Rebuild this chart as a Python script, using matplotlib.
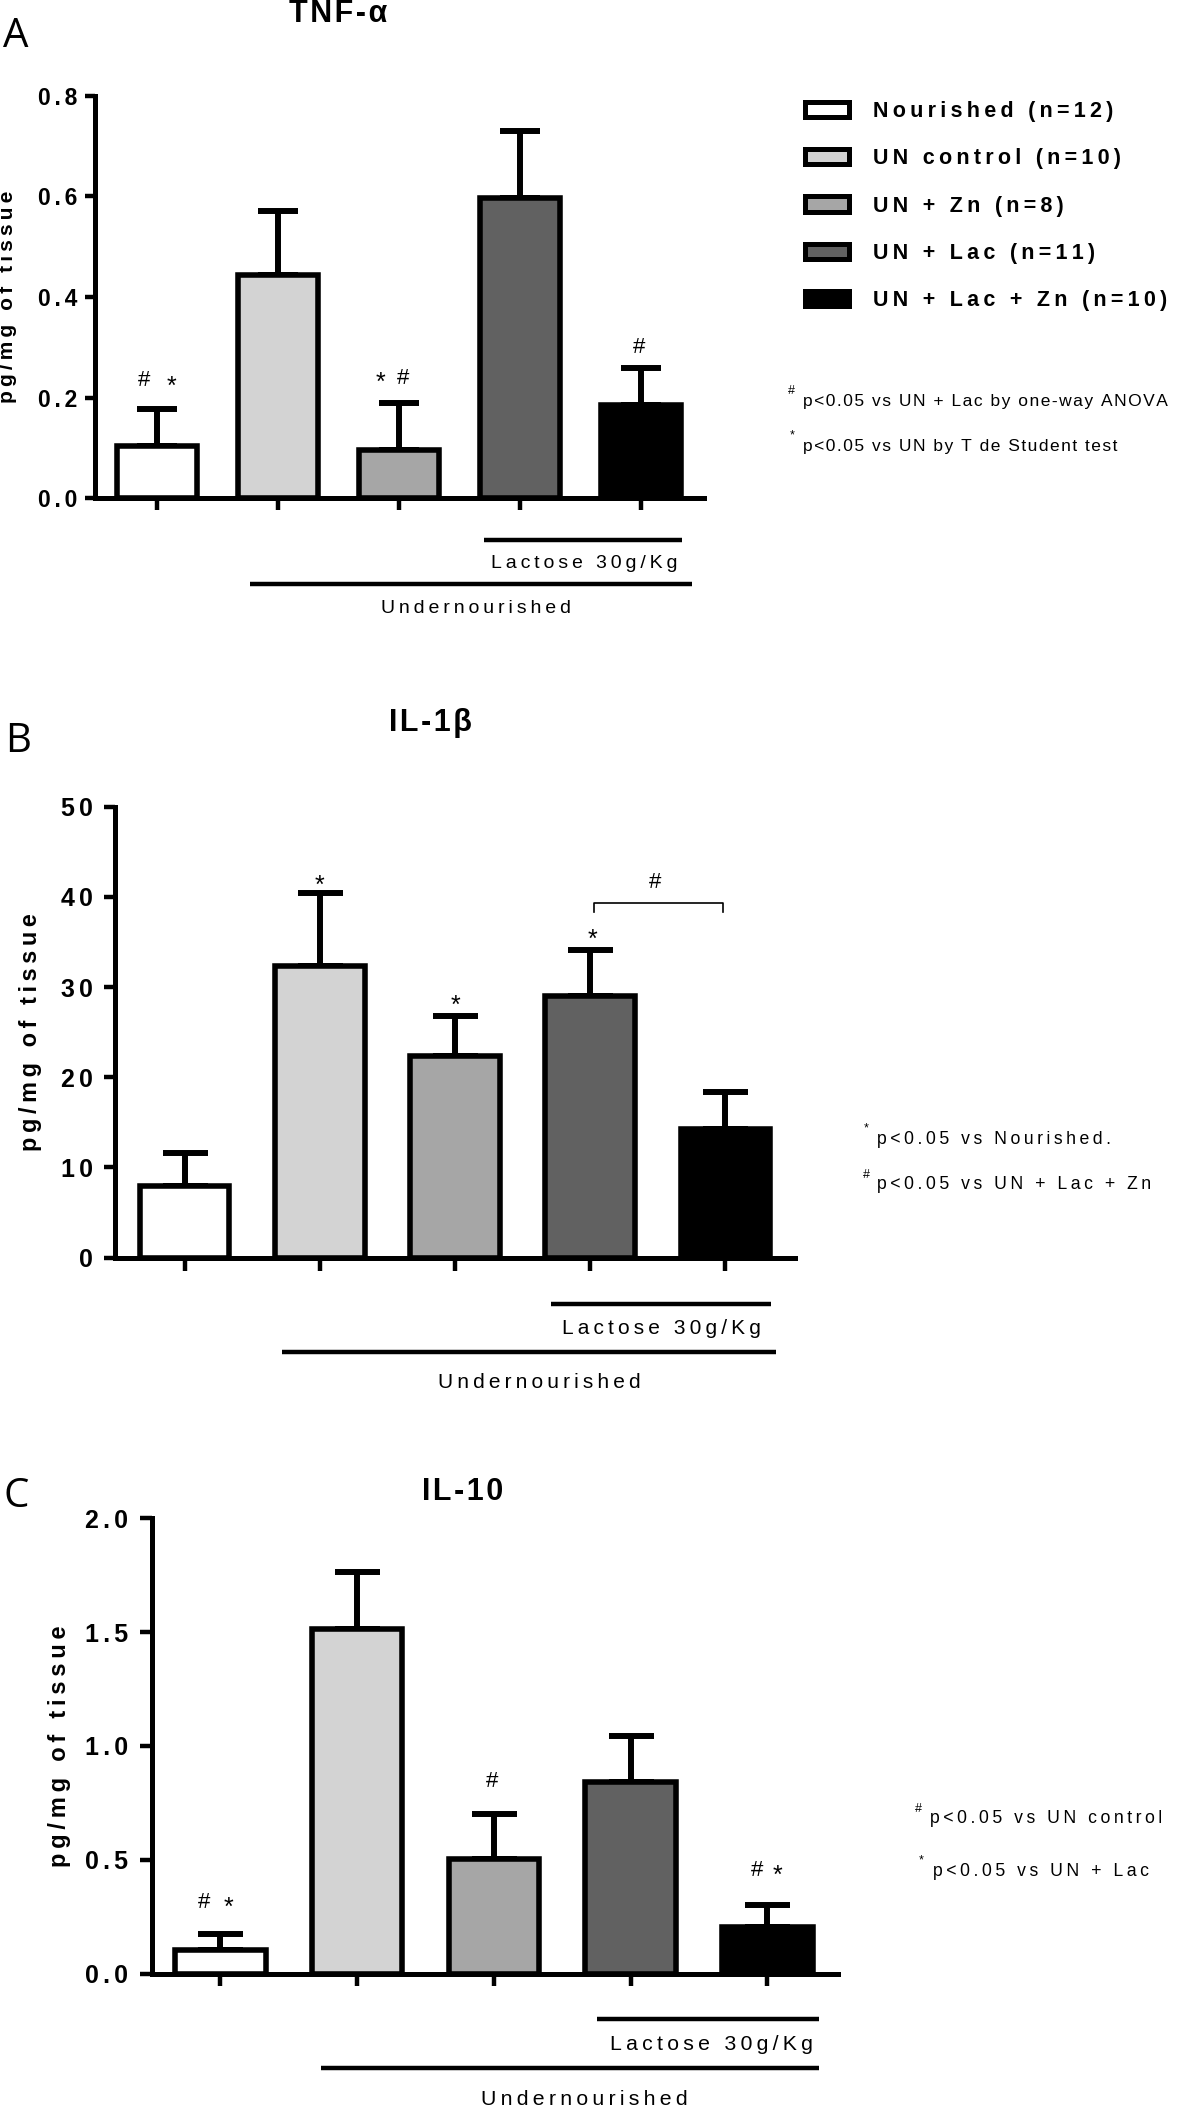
import numpy as np
import matplotlib
matplotlib.use("Agg")
import matplotlib.pyplot as plt
import matplotlib.transforms as mtransforms
from matplotlib.patches import Patch

# ---------------- data ----------------
groups = ["Nourished (n=12)", "UN control (n=10)", "UN + Zn (n=8)",
          "UN + Lac (n=11)", "UN + Lac + Zn (n=10)"]
bar_colors = ["#ffffff", "#d3d3d3", "#a6a6a6", "#616161", "#000000"]

tnf_mean = [0.104, 0.444, 0.096, 0.596, 0.185]
tnf_sem = [0.073, 0.127, 0.093, 0.134, 0.073]
tnf_ticks = [0.0, 0.2, 0.4, 0.6, 0.8]
tnf_ticklabels = ["0.0", "0.2", "0.4", "0.6", "0.8"]

il1b_mean = [7.9, 32.3, 22.3, 29.0, 14.3]
il1b_sem = [3.7, 8.1, 4.5, 5.1, 4.1]
il1b_ticks = [0, 10, 20, 30, 40, 50]
il1b_ticklabels = ["0", "10", "20", "30", "40", "50"]

il10_mean = [0.103, 1.513, 0.502, 0.840, 0.206]
il10_sem = [0.070, 0.249, 0.198, 0.203, 0.094]
il10_ticks = [0.0, 0.5, 1.0, 1.5, 2.0]
il10_ticklabels = ["0.0", "0.5", "1.0", "1.5", "2.0"]

ylabel = "pg/mg of tissue"
lactose_label = "Lactose 30g/Kg"
un_label = "Undernourished"

notes_A = [("#", "p<0.05 vs UN + Lac by one-way ANOVA"),
           ("*", "p<0.05 vs UN by T de Student test")]
notes_B = [("*", "p<0.05 vs Nourished."),
           ("#", "p<0.05 vs UN + Lac + Zn")]
notes_C = [("#", "p<0.05 vs UN control"),
           ("*", "p<0.05 vs UN + Lac")]

# ---------------- setup ----------------
W, H = 1200, 2107
FAMS = ["Liberation Sans", "DejaVu Sans"]
plt.rcParams["font.family"] = FAMS
plt.rcParams["axes.linewidth"] = 3.6

fig = plt.figure(figsize=(W / 100, H / 100), dpi=100)
renderer = fig.canvas.get_renderer()


def fy(p):
    return 1 - p / H


def _w(s):
    t = fig.text(0, 0, s, fontsize=100)
    w = t.get_window_extent(renderer).width
    t.remove()
    return w


_base = _w("xx")
_em = 100 * 100 / 72.0
SPACERS = {}
for ch in ["\u200a", "\u2006", "\u2009", "\u2005", "\u2004"]:
    try:
        SPACERS[ch] = (_w("x" + ch * 20 + "x") - _base) / 20 / _em
    except Exception:
        pass


def tracked(s, frac):
    if not SPACERS:
        return s
    sp = min(SPACERS, key=lambda c: abs(SPACERS[c] - frac))
    return sp.join(s)


MARK_OFF = {"#": -0.35, "*": -0.52}
MARK_FS = {"#": 16, "*": 18}


def mark(ax, x, y, s):
    fsz = MARK_FS[s]
    tr = mtransforms.offset_copy(ax.transData, fig=fig, x=0,
                                 y=MARK_OFF[s] * fsz, units="points")
    ax.text(x, y, s, transform=tr, ha="center", va="baseline", fontsize=fsz)


def fig_mark(px, py, s, fs):
    tr = mtransforms.offset_copy(fig.transFigure, fig=fig, x=0,
                                 y=MARK_OFF[s] * fs, units="points")
    fig.text(px / W, fy(py), s, transform=tr, ha="center", va="baseline",
             fontsize=fs)


def panel(cfg, means, sems, ticks, ticklabels):
    l, t, r, b = cfg["box"]
    ax = fig.add_axes([l / W, 1 - b / H, (r - l) / W, (b - t) / H])
    x = np.arange(len(means))
    ax.errorbar(x, means, yerr=[np.zeros(len(means)), sems], fmt="none",
                ecolor="black", elinewidth=4.3, capsize=cfg["cap"],
                capthick=4.3, zorder=1)
    ax.bar(x, means, width=0.662, color=bar_colors, edgecolor="black",
           linewidth=4.0, zorder=2)
    ax.set_xlim(*cfg["xlim"])
    ax.set_ylim(ticks[0], ticks[-1])
    for s in ["top", "right"]:
        ax.spines[s].set_visible(False)
    ax.set_yticks(ticks, labels=[tracked(tl, 0.15) for tl in ticklabels])
    ax.set_xticks(x)
    ax.tick_params(axis="x", labelbottom=False, length=cfg["xtl"], width=3.2)
    ax.tick_params(axis="y", length=cfg["ytl"], width=3.2, pad=cfg["pad"],
                   labelsize=cfg["tfs"])
    for lab in ax.get_yticklabels():
        lab.set_fontweight("bold")
    ax.set_ylabel(tracked(ylabel, 0.2), fontsize=cfg["lfs"], fontweight="bold")
    ax.yaxis.set_label_coords((cfg["ylx"] - l) / (r - l), 0.5)

    # title & panel letter
    fig.text(cfg["title_x"] / W, fy(cfg["title_y"]), tracked(cfg["title"], 0.1),
             ha="center", va="baseline", fontsize=22, fontweight="bold")
    fig.text(cfg["letter_x"] / W, fy(cfg["letter_y"]), cfg["letter"],
             family=["Open Sans", "DejaVu Sans"], fontsize=29,
             ha="left", va="baseline")

    # significance marks
    for (xi, yv, s) in cfg["marks"]:
        mark(ax, xi, yv, s)

    # group lines under the axis
    trans = mtransforms.blended_transform_factory(ax.transData, fig.transFigure)
    for (lab, x0, x1, dline, tx, dtext) in cfg["groups"]:
        ax.plot([x0, x1], [fy(b + dline)] * 2, transform=trans, color="black",
                lw=3.2, solid_capstyle="butt", clip_on=False)
        ax.text(tx, fy(b + dtext), tracked(lab, 0.19), transform=trans,
                ha="center", va="baseline", fontsize=cfg["gfs"])

    # footnotes
    for (sym, txt), (sx, sy, tx0, tby) in zip(cfg["notes"], cfg["note_pos"]):
        fig_mark(sx, sy, sym, 9)
        fig.text(tx0 / W, fy(tby), tracked(txt, cfg["ntr"]), ha="left",
                 va="baseline", fontsize=cfg["nfs"])
    return ax


cfgA = dict(box=(95, 95.7, 704, 498.3), xlim=(-0.512, 4.521), cap=14.4,
            xtl=8.4, ytl=7.2, pad=5.8, tfs=16.5, lfs=15, ylx=17,
            title="TNF-\u03b1", title_x=338, title_y=22,
            letter="A", letter_x=3, letter_y=47,
            marks=[(-0.107, 0.239, "#"), (0.116, 0.233, "*"),
                   (1.851, 0.241, "*"), (2.033, 0.243, "#"),
                   (3.983, 0.305, "#")],
            groups=[(lactose_label, 2.70, 4.34, 41.7, 3.53, 69.4),
                    (un_label, 0.77, 4.42, 85.7, 2.64, 114.7)],
            gfs=14, notes=notes_A, ntr=0.09, nfs=12.5,
            note_pos=[(791, 390, 803, 406), (792, 432, 803, 450.7)])

cfgB = dict(box=(115, 806.7, 795, 1257.5), xlim=(-0.514, 4.514), cap=16.2,
            xtl=9, ytl=7.9, pad=7.9, tfs=18, lfs=16.8, ylx=42,
            title="IL-1\u03b2", title_x=430, title_y=731,
            letter="B", letter_x=5, letter_y=751.7,
            marks=[(1.0, 41.9, "*"), (2.0, 28.6, "*"), (3.02, 35.9, "*"),
                   (3.48, 41.8, "#")],
            groups=[(lactose_label, 2.71, 4.34, 46.5, 3.53, 76.8),
                    (un_label, 0.72, 4.37, 94.5, 2.62, 130.5)],
            gfs=15, notes=notes_B, ntr=0.19, nfs=12.7,
            note_pos=[(866, 1125, 877, 1144), (866, 1173.5, 877, 1189)])

cfgC = dict(box=(151.7, 1518.3, 837.7, 1973.5), xlim=(-0.503, 4.515), cap=16.2,
            xtl=8.3, ytl=8.4, pad=8.6, tfs=18, lfs=17, ylx=71,
            title="IL-10", title_x=462.5, title_y=1500,
            letter="C", letter_x=3, letter_y=1506.7,
            marks=[(-0.12, 0.323, "#"), (0.062, 0.314, "*"),
                   (1.986, 0.854, "#"),
                   (3.925, 0.463, "#"), (4.078, 0.455, "*")],
            groups=[(lactose_label, 2.754, 4.378, 45.5, 3.59, 76.5),
                    (un_label, 0.735, 4.378, 94.5, 2.66, 131.5)],
            gfs=15.3, notes=notes_C, ntr=0.19, nfs=12.7,
            note_pos=[(918, 1807.5, 930, 1822.7), (921, 1857, 933, 1876)])

axA = panel(cfgA, tnf_mean, tnf_sem, tnf_ticks, tnf_ticklabels)
axB = panel(cfgB, il1b_mean, il1b_sem, il1b_ticks, il1b_ticklabels)
axC = panel(cfgC, il10_mean, il10_sem, il10_ticks, il10_ticklabels)

# bracket in panel B (UN + Lac vs UN + Lac + Zn)
axB.plot([3.03, 3.03, 3.98, 3.98], [38.3, 39.3, 39.3, 38.3], color="black",
         lw=1.2, clip_on=False)

# legend (panel A)
handles = [Patch(facecolor=c, edgecolor="black", linewidth=3.6) for c in bar_colors]
fig.legend(handles, [tracked(g, 0.2) for g in groups], loc="upper left",
           bbox_to_anchor=(804.5 / W, fy(101)), frameon=False, borderpad=0,
           borderaxespad=0, handlelength=2.05, handleheight=0.7,
           handletextpad=1.14, labelspacing=1.22,
           prop={"weight": "bold", "size": 15.5})

fig.savefig("out.png", dpi=100)
